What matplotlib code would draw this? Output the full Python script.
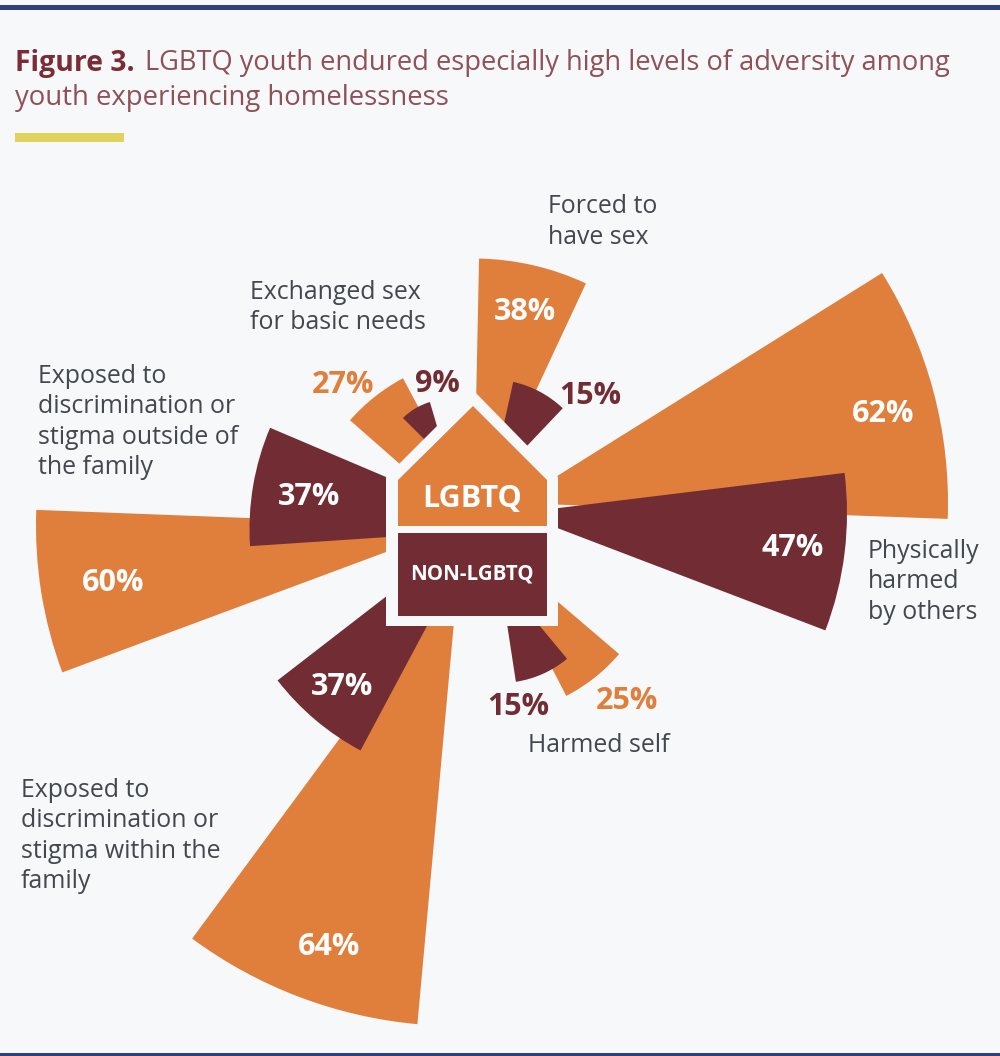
import matplotlib
matplotlib.use("Agg")
import matplotlib.pyplot as plt
from matplotlib.patches import Wedge, Polygon, Rectangle

# Share of youth reporting each adversity, in percent
categories = ["Physically\nharmed\nby others", "Forced to\nhave sex", "Exchanged sex\nfor basic needs",
              "Exposed to\ndiscrimination or\nstigma outside of\nthe family",
              "Exposed to\ndiscrimination or\nstigma within the\nfamily", "Harmed self"]
lgbtq_values = [62, 38, 27, 60, 64, 25]
non_lgbtq_values = [47, 15, 9, 37, 37, 15]

# Spoke layout: wedge apex (canvas px) and angular span (degrees, counter-clockwise from east)
lgbtq_apex = [(514, 503), (473.5, 524.5), (492, 545), (456, 526), (458, 578), (486, 540.4)]
lgbtq_span = [(-2.1, 32.0), (65.0, 88.8), (118.1, 138.7), (177.8, 200.4), (233.6, 264.8), (-62.7, -40.5)]
non_apex = [(518, 513), (490.5, 484.4), (447.6, 462.5), (508.5, 529), (482.5, 522), (500, 578)]
non_span = [(-20.9, 7.0), (46.5, 77.5), (106.3, 135.1), (157.0, 183.8), (217.7, 241.9), (-81.3, -50.3)]

# Percent label centres
lgbtq_label_xy = [(883, 414), (525, 312), (343, 385), (113, 583), (329, 947), (627, 701)]
lgbtq_label_col = ["white", "white", "orange", "white", "white", "orange"]
non_label_xy = [(793, 548), (590, 396), (437, 384), (309, 497), (342, 687), (518, 707)]
non_label_col = ["white", "dark", "dark", "white", "white", "dark"]
category_xy = [(868, 582), (548, 222), (250, 307.5), (38, 422), (21, 836), (528, 745.5)]

PX_PER_POINT = 7.0
BG = "#f6f8fa"
ORANGE = "#e07e3c"
DARK = "#722c33"
SLATE = "#43484e"
COLORS = {"white": "white", "orange": ORANGE, "dark": DARK}
FONT = "Open Sans"

fig = plt.figure(figsize=(10, 10.56), dpi=100, facecolor=BG)
ax = fig.add_axes([0, 0, 1, 1])
ax.set_xlim(0, 1000)
ax.set_ylim(1056, 0)
ax.axis("off")


def spoke(apex, span, value, color, z):
    # y runs downward on this canvas, so the angles are mirrored
    ax.add_patch(Wedge(apex, value * PX_PER_POINT, -span[1], -span[0], fc=color, ec="none", zorder=z))


for apex, span, value in zip(lgbtq_apex, lgbtq_span, lgbtq_values):
    spoke(apex, span, value, ORANGE, 1)
for apex, span, value in zip(non_apex, non_span, non_lgbtq_values):
    spoke(apex, span, value, DARK, 2)

# House in the centre: a background-coloured outline with the two coloured panels on top
ax.add_patch(Polygon([(473, 390), (558, 477), (558, 626), (386, 626), (386, 477)], fc=BG, ec="none", zorder=3))
ax.add_patch(Polygon([(473, 406), (547, 480), (547, 526), (398, 526), (398, 480)], fc=ORANGE, ec="none", zorder=4))
ax.add_patch(Rectangle((398, 533), 149, 83, fc=DARK, ec="none", zorder=4))
ax.text(472, 499, "LGBTQ", color="white", fontsize=22, fontweight="bold", family=FONT,
        ha="center", va="center", zorder=5)
ax.text(472, 574, "NON-LGBTQ", color="white", fontsize=14.8, fontweight="bold", family=FONT,
        ha="center", va="center", zorder=5)

for (x, y), value, col in zip(lgbtq_label_xy, lgbtq_values, lgbtq_label_col):
    ax.text(x, y, f"{value}%", color=COLORS[col], fontsize=22, fontweight="bold", family=FONT,
            ha="center", va="center", zorder=6)
for (x, y), value, col in zip(non_label_xy, non_lgbtq_values, non_label_col):
    ax.text(x, y, f"{value}%", color=COLORS[col], fontsize=22, fontweight="bold", family=FONT,
            ha="center", va="center", zorder=6)
for (x, y), name in zip(category_xy, categories):
    ax.text(x, y, name, color=SLATE, fontsize=17.9, family=FONT, ha="left", va="center",
            linespacing=1.27, zorder=6)

# Heading: bold figure number followed by the regular-weight statement
head = ax.text(15, 63, "Figure 3.", color="#7a2d35", fontsize=20.4, fontweight="bold", family=FONT,
               ha="left", va="center")
fig.canvas.draw()
head_right = ax.transData.inverted().transform(head.get_window_extent().get_points())[1][0]
ax.text(head_right + 10, 63, "LGBTQ youth endured especially high levels of adversity among",
        color="#8f5058", fontsize=19.6, family=FONT, ha="left", va="center")
ax.text(15, 98, "youth experiencing homelessness", color="#8f5058", fontsize=19.8, family=FONT,
        ha="left", va="center")

# Rules: navy at top and bottom edges, short yellow accent under the heading
ax.add_patch(Rectangle((0, 5), 1000, 4.5, fc="#2f3f80", ec="none", zorder=7))
ax.add_patch(Rectangle((0, 1053), 1000, 3, fc="#2f3f80", ec="none", zorder=7))
ax.add_patch(Rectangle((15, 133), 109, 9, fc="#dfd35c", ec="none", zorder=7))

fig.savefig("out.png", dpi=100, facecolor=BG)
